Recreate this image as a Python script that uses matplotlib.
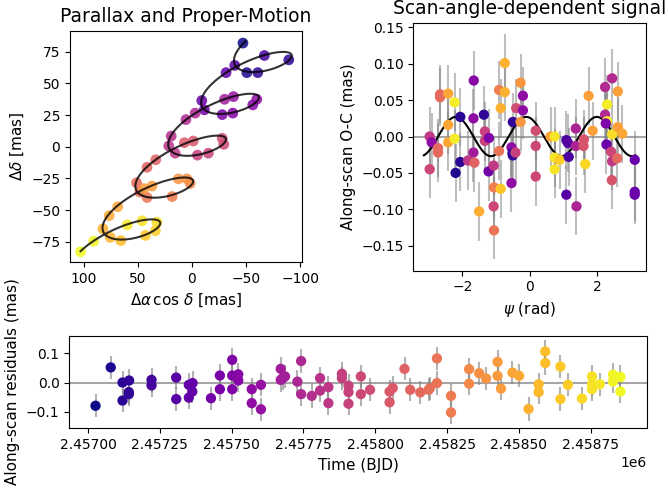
import numpy as np
import matplotlib.pyplot as plt
from matplotlib.colors import Normalize

# --- top left: sky track, points in time order (mas) ---
track_x = [-47.2, -50.8, -60.9, -89.6, -67.0, -39.6, -31.6, -9.1, -11.5, -28.0,
           -37.8, -56.3, -60.0, -38.4, -30.2, -3.0, 5.5, 19.2, 21.4, 15.5,
           -5.1, -15.2, -29.5, -28.0, -1.2, 7.0, 33.5, 41.5, 51.2, 48.2,
           41.5, 18.3, 1.6, 4.6, 12.5, 36.9, 44.5, 68.6, 76.5, 82.3,
           75.6, 65.8, 43.0, 33.8, 32.4, 46.1, 59.8, 90.9, 103.0]
track_y = [81.7, 58.4, 58.4, 68.5, 71.9, 64.1, 58.4, 36.4, 29.1, 25.3,
           26.5, 33.0, 37.4, 39.5, 37.4, 26.5, 21.4, 8.4, 0.6, -5.1,
           -6.6, -5.1, 1.9, 6.6, 4.5, 3.2, -10.3, -16.2, -28.4, -35.7,
           -40.0, -39.3, -28.9, -25.3, -25.3, -31.0, -33.0, -47.3, -54.3, -64.7,
           -71.4, -74.0, -69.9, -66.2, -59.5, -58.4, -61.6, -74.5, -82.8]
track_t = [2457026, 2457079, 2457120, 2457142, 2457221, 2457307, 2457351, 2457364, 2457428, 2457459,
           2457502, 2457523, 2457570, 2457602, 2457671, 2457729, 2457742, 2457779, 2457808, 2457837,
           2457884, 2457907, 2457950, 2457982, 2458050, 2458061, 2458102, 2458122, 2458157, 2458186,
           2458215, 2458264, 2458327, 2458362, 2458386, 2458426, 2458438, 2458478, 2458501, 2458534,
           2458569, 2458592, 2458645, 2458671, 2458720, 2458755, 2458782, 2458828, 2458854]

# parallax + proper motion model
t_ref = 2457073.5
x_c, y_c = -72.5, 79.0
mu_x, mu_y = 30.4, -33.0        # mas / yr
a_x, t_y, a_y = 34.0, 9.5, 12.0  # ellipse terms
phase0 = 3.29

# --- top right: scan-angle signal ---
psi = [-2.97, -2.91, -2.97, -2.66, -2.66, -2.72, -2.72, -2.42, -2.42, -2.42,
       -2.23, -2.23, -2.20, -2.06, -2.06, -1.66, -1.67, -1.67, -1.83, -1.64,
       -1.36, -1.33, -1.33, -1.21, -1.22, -1.07, -1.06, -1.07, -1.06, -1.50,
       -0.91, -0.91, -0.86, -0.86, -0.74, -0.74, -0.50, -0.54, -0.51, -0.50,
       -0.54, -0.42, -0.40, -0.27, -0.27, -0.20, -0.20, 0.18, 0.18, 0.18,
       0.62, 0.74, 0.74, 0.74, 0.89, 1.09, 1.14, 1.16, 1.09, 1.37,
       1.37, 1.39, 1.61, 1.60, 1.65, 1.75, 1.87, 2.24, 2.30, 2.24,
       2.30, 2.26, 2.28, 2.45, 2.45, 2.42, 2.45, 2.44, 2.60, 2.62,
       2.62, 2.75, 3.12, 3.12, 3.12]
oc = [0.000, -0.008, -0.045, 0.058, 0.054, -0.016, -0.022, 0.059, 0.016, -0.008,
      0.047, -0.003, -0.050, 0.027, -0.035, 0.077, 0.025, -0.022, -0.033, -0.036,
      0.030, 0.007, -0.006, -0.002, -0.048, -0.040, -0.070, -0.096, -0.129, -0.103,
      0.064, -0.020, -0.072, 0.039, 0.101, 0.061, 0.020, -0.015, -0.023, -0.026,
      -0.064, -0.022, 0.039, 0.074, 0.020, 0.056, 0.036, 0.008, -0.013, -0.055,
      0.000, 0.000, -0.029, -0.045, -0.032, -0.005, -0.009, -0.028, -0.080, 0.011,
      -0.013, -0.096, -0.004, -0.013, -0.038, 0.056, 0.008, 0.068, 0.044, 0.030,
      0.021, 0.018, -0.011, 0.080, 0.003, -0.021, -0.034, -0.060, -0.030, 0.062,
      0.013, 0.004, -0.032, -0.076, -0.080]
oc_t = [2457849, 2457574, 2457940, 2458159, 2458159, 2458159, 2458159, 2458488, 2458488, 2458488,
        2458799, 2458799, 2457081, 2457117, 2457117, 2457538, 2457574, 2457666, 2457849, 2458123,
        2457136, 2457903, 2457903, 2457483, 2457428, 2457849, 2458269, 2457940, 2458214, 2458525,
        2458269, 2458214, 2458635, 2458543, 2458543, 2458543, 2457154, 2457574, 2457154, 2457154,
        2457574, 2457903, 2457977, 2458397, 2458397, 2457574, 2457574, 2457977, 2457940, 2457940,
        2458452, 2458763, 2458763, 2458763, 2458671, 2457245, 2457300, 2457245, 2457300, 2457721,
        2457721, 2457721, 2458031, 2458031, 2458708, 2458452, 2458452, 2457757, 2458799, 2457757,
        2458799, 2457483, 2457392, 2457757, 2458726, 2457940, 2457849, 2458031, 2458159, 2458452,
        2458452, 2458488, 2457392, 2457392, 2457392]
oc_err = 0.04
sig_amp = 0.027
sig_freq = 3
sig_peak = -0.10

# --- bottom: residuals vs time ---
res_t = [2457026, 2457079, 2457120, 2457120, 2457143, 2457142, 2457142,
         2457221, 2457221, 2457307, 2457307, 2457351, 2457364, 2457363, 2457351,
         2457428, 2457459, 2457459, 2457502, 2457502, 2457502, 2457523, 2457523,
         2457570, 2457570, 2457602, 2457602,
         2457671, 2457671, 2457686, 2457678,
         2457742, 2457729, 2457742, 2457779,
         2457808, 2457808, 2457837, 2457837,
         2457884, 2457884, 2457907, 2457907, 2457907,
         2457950, 2457950, 2457982,
         2458050, 2458050, 2458061,
         2458102, 2458122, 2458157, 2458186, 2458190,
         2458215, 2458215, 2458264, 2458264,
         2458327, 2458327, 2458362, 2458386,
         2458426, 2458426, 2458438,
         2458478, 2458501, 2458534,
         2458569, 2458569, 2458592, 2458592,
         2458645, 2458645, 2458671, 2458720,
         2458755, 2458755, 2458755, 2458782,
         2458828, 2458828, 2458854, 2458854]
res = [-0.080, 0.052, 0.000, -0.062, 0.007, -0.033, -0.040,
       0.009, -0.010, 0.017, -0.057, -0.008, -0.002, -0.031, -0.052,
       -0.054, 0.024, -0.023, 0.078, 0.024, -0.023, 0.028, 0.007,
       -0.023, -0.071, -0.008, -0.092,
       0.047, 0.009, 0.021, 0.015,
       0.074, 0.003, -0.040, -0.046,
       0.015, -0.028, -0.016, -0.071,
       0.030, 0.015, -0.011, -0.033, -0.073,
       0.021, -0.040, -0.025,
       -0.031, -0.068, -0.019,
       0.047, -0.025, -0.034, -0.025, -0.020,
       0.083, -0.002, -0.046, -0.103,
       0.046, -0.004, 0.032, 0.014,
       0.071, 0.023, -0.021,
       0.034, 0.023, -0.091,
       -0.006, -0.033, 0.107, 0.067,
       0.055, -0.057, -0.008, -0.055,
       0.021, -0.006, -0.023, -0.006,
       0.027, 0.003, 0.019, -0.031]
res_err = 0.04

cmap = plt.cm.plasma
norm = Normalize(vmin=min(res_t), vmax=max(res_t))

fig = plt.figure(figsize=(6.68, 4.99), dpi=100)
ax1 = fig.add_axes([0.1048, 0.4743, 0.3478, 0.4645])
ax2 = fig.add_axes([0.6187, 0.4575, 0.3484, 0.4970])
ax3 = fig.add_axes([0.1037, 0.1417, 0.8644, 0.1858])

# sky track
tt = np.linspace(min(track_t), max(track_t), 2000)
tau = (tt - t_ref) / 365.25
th = 2 * np.pi * tau + phase0
mx = x_c + mu_x * tau - a_x * np.cos(th)
my = y_c + mu_y * tau + t_y * np.cos(th) + a_y * np.sin(th)
ax1.scatter(track_x, track_y, c=track_t, cmap=cmap, norm=norm, s=60, alpha=0.85,
            edgecolors='none', zorder=2)
ax1.plot(mx, my, color='k', lw=1.5, alpha=0.8, zorder=3)
ax1.invert_xaxis()
ax1.set_xticks([100, 50, 0, -50, -100])
ax1.set_yticks([-75, -50, -25, 0, 25, 50, 75])
ax1.set_xlabel(r'$\Delta\alpha\,\cos\,\delta$ [mas]', fontsize=11)
ax1.set_ylabel(r'$\Delta\delta$ [mas]', fontsize=11)
ax1.set_title('Parallax and Proper-Motion', fontsize=13.5)

# scan-angle signal
ax2.axhline(0, color='gray', lw=1.5, alpha=0.7, zorder=0)
ax2.errorbar(psi, oc, yerr=oc_err, fmt='none', ecolor='gray', elinewidth=1.5,
             alpha=0.5, zorder=1)
pp = np.linspace(-np.pi, np.pi, 500)
ax2.plot(pp, sig_amp * np.cos(sig_freq * (pp - sig_peak)), color='k', lw=1.5, zorder=2)
ax2.scatter(psi, oc, c=oc_t, cmap=cmap, norm=norm, s=55, edgecolors='none', zorder=3)
ax2.set_xlabel(r'$\psi$ (rad)', fontsize=11)
ax2.set_ylabel('Along-scan O-C (mas)', fontsize=11)
ax2.set_title('Scan-angle-dependent signal', fontsize=13.5)

# residuals
ax3.axhline(0, color='gray', lw=1.5, alpha=0.7, zorder=0)
ax3.errorbar(res_t, res, yerr=res_err, fmt='none', ecolor='gray', elinewidth=1.5,
             alpha=0.6, zorder=1)
ax3.scatter(res_t, res, c=res_t, cmap=cmap, norm=norm, s=55, edgecolors='none', zorder=3)
ax3.ticklabel_format(axis='x', useOffset=False)
ax3.set_xlabel('Time (BJD)', fontsize=11)
ax3.set_ylabel('Along-scan residuals (mas)', fontsize=11)

fig.savefig('out.png', dpi=100)
